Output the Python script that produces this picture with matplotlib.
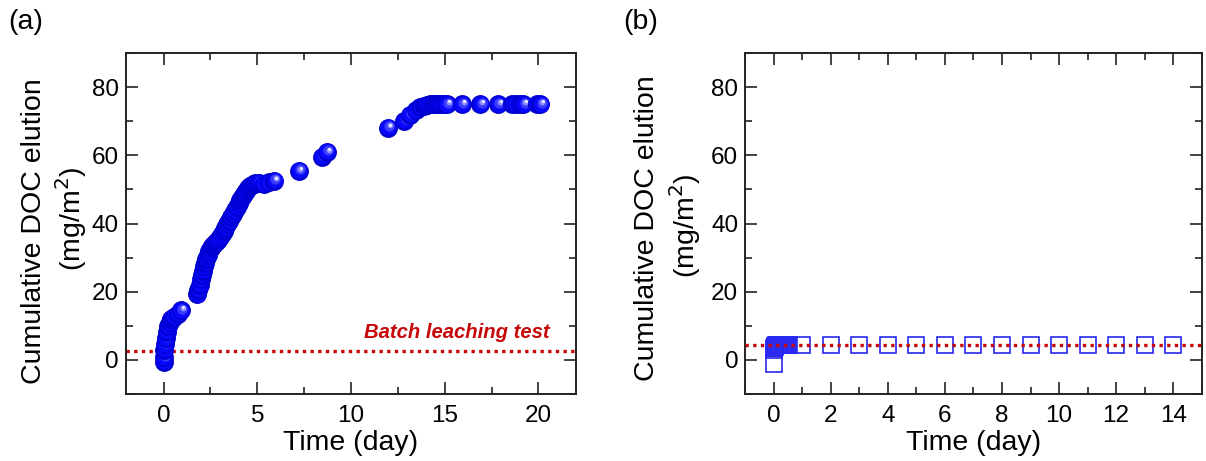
import matplotlib
matplotlib.use("Agg")
import matplotlib.pyplot as plt
import matplotlib.transforms as mtransforms
from matplotlib.ticker import MultipleLocator


# (a) column test, cumulative DOC elution (mg/m2) vs time (day)
col_time = [0.0, 0.02, 0.04, 0.08, 0.12, 0.18, 0.25, 0.32, 0.42, 0.56, 0.75, 0.92,
            1.80, 1.86, 1.92, 1.98, 2.04, 2.10, 2.16, 2.22, 2.28, 2.36, 2.44, 2.52,
            2.60, 2.70, 2.80, 2.90, 3.00, 3.10, 3.20, 3.30, 3.40, 3.50, 3.60, 3.70,
            3.80, 3.90, 4.00, 4.10, 4.20, 4.30, 4.40, 4.50, 4.60, 4.70, 4.80, 4.90,
            5.10, 5.35, 5.60, 5.90,
            7.20, 8.45, 8.70,
            11.95, 12.85, 13.15, 13.45, 13.70, 13.90, 14.05, 14.20, 14.35, 14.50,
            14.65, 14.80, 14.95, 15.10, 15.90, 16.90, 17.85, 18.60, 18.80, 19.00,
            19.20, 19.90, 20.10]
col_doc = [-0.5, 0.8, 2.9, 4.6, 6.4, 8.2, 9.8, 11.0, 12.0, 12.7, 13.6, 14.6,
           19.2, 20.6, 22.1, 23.6, 25.0, 26.2, 27.4, 28.5, 29.6, 30.8, 31.9, 32.8,
           33.4, 34.0, 34.6, 35.3, 36.0, 36.9, 37.8, 38.8, 39.8, 40.8, 41.9, 42.9,
           43.9, 44.9, 45.9, 46.9, 47.9, 48.8, 49.6, 50.4, 51.0, 51.4, 51.6, 51.8,
           51.9, 51.6, 52.1, 52.6,
           55.4, 59.5, 61.0,
           68.1, 70.2, 71.9, 73.2, 74.1, 74.6, 74.8, 75.0, 75.0, 75.0,
           75.0, 75.0, 75.0, 75.0, 75.0, 75.0, 75.0, 75.0, 75.0, 75.0,
           75.0, 75.0, 75.0]
batch_a = 2.7

# (b)
b_time = [0.0, 0.01, 0.02, 0.03, 0.05, 0.07, 0.10, 0.13, 0.16, 0.19, 0.22, 0.25,
          0.28, 0.31, 0.34, 0.37, 0.40, 0.43, 0.46, 0.49, 0.52,
          1, 2, 3, 4, 5, 6, 7, 8, 9, 10, 11, 12, 13, 14]
b_doc = [-1.2, 3.0, 3.5, 3.9, 4.2, 4.35, 4.4, 4.4, 4.4, 4.4, 4.4, 4.4,
         4.4, 4.4, 4.4, 4.4, 4.4, 4.4, 4.4, 4.4, 4.4,
         4.4, 4.4, 4.4, 4.4, 4.4, 4.4, 4.4, 4.4, 4.4, 4.4, 4.4, 4.4, 4.4, 4.4]
batch_b = 4.4

RED = "#c80808"
LABEL_FS = 20.5

plt.rcParams.update({
    "font.family": ["Liberation Sans", "DejaVu Sans"],
    "font.size": 17,
    "axes.linewidth": 1.4,
    "axes.edgecolor": "#222222",
})

fig = plt.figure(figsize=(12.06, 4.61), dpi=100)
ax1 = fig.add_axes([0.1045, 0.1453, 0.3731, 0.7397])
ax2 = fig.add_axes([0.618, 0.1453, 0.3784, 0.7397])


def style_axes(ax, xmajor, xminor):
    ax.set_ylim(-10, 90)
    ax.yaxis.set_major_locator(MultipleLocator(20))
    ax.yaxis.set_minor_locator(MultipleLocator(10))
    ax.xaxis.set_major_locator(MultipleLocator(xmajor))
    ax.xaxis.set_minor_locator(MultipleLocator(xminor))
    ax.tick_params(which="both", direction="in", top=True, right=True, width=1.2, color="#222222")
    ax.tick_params(which="major", length=8.5)
    ax.tick_params(which="minor", length=5)
    ax.tick_params(axis="x", pad=8, labelsize=17.5)
    ax.tick_params(axis="y", pad=5, labelsize=17.5)
    ax.set_xlabel("Time (day)", fontsize=LABEL_FS, labelpad=2)


def sphere(ax, x, y, z):
    # shaded ball: dark base, lighter core and a white glint offset up-right
    layers = [(13.6, "#0000d0", 0, 0), (11.4, "#0808fa", 0.3, 0.4),
              (7.4, "#3c3cff", 0.9, 1.1), (4.2, "#9090ff", 1.4, 1.7),
              (2.0, "#ffffff", 1.7, 2.0)]
    for k, (ms, c, dx, dy) in enumerate(layers):
        tr = mtransforms.offset_copy(ax.transData, fig=fig, x=dx, y=dy, units="points")
        ax.plot(x, y, "o", ms=ms, color=c, mec="none", transform=tr,
                zorder=3 + z * 0.01 + k * 0.001, clip_on=False)


# panel (a)
style_axes(ax1, 5, 2.5)
ax1.set_xlim(-2, 22)
ax1.axhline(batch_a, color=RED, lw=2.4, ls=(0, (1, 1.3)), zorder=2)
for i, (t, v) in enumerate(zip(col_time, col_doc)):
    sphere(ax1, t, v, i)
ax1.text(20.6, 8.0, "Batch leaching test", color=RED, fontsize=14.6,
         fontweight="bold", fontstyle="italic", ha="right", va="center")

# panel (b)
style_axes(ax2, 2, 1)
ax2.set_xlim(-1, 15)
ax2.plot(b_time, b_doc, "s", ms=11, mfc="none", mec="#2828f0", mew=1.2, zorder=3)
ax2.axhline(batch_b, color=RED, lw=2.4, ls=(0, (1, 1.3)), zorder=4)

# two-line y labels and panel letters
for x0, x1, yl1, yl2, letter, lx in [(34, 71, 231, 219, "(a)", 8), (647, 685, 228, 226, "(b)", 623)]:
    fig.text(x0 / 1206, 1 - yl1 / 461, "Cumulative DOC elution", rotation=90,
             ha="center", va="center", fontsize=LABEL_FS)
    fig.text(x1 / 1206, 1 - yl2 / 461, "(mg/m$^2$)", rotation=90,
             ha="center", va="center", fontsize=LABEL_FS)
    fig.text(lx / 1206, 1 - 22 / 461, letter, ha="left", va="center", fontsize=LABEL_FS)

fig.savefig("out.png", dpi=100)
